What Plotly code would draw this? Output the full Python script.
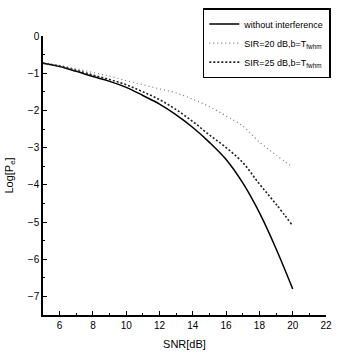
import plotly.graph_objects as go

snr = [5, 6, 7, 8, 9, 10, 11, 12, 13, 14, 15, 16, 17, 18, 19, 20]
no_interf = [-0.73, -0.82, -0.95, -1.09, -1.22, -1.38, -1.60, -1.83, -2.12, -2.46, -2.86, -3.32, -3.95, -4.75, -5.72, -6.80]
sir20 = [-0.73, -0.79, -0.88, -0.98, -1.08, -1.20, -1.31, -1.42, -1.53, -1.70, -1.90, -2.15, -2.42, -2.85, -3.20, -3.53]
sir25 = [-0.73, -0.81, -0.92, -1.05, -1.17, -1.31, -1.50, -1.71, -1.98, -2.30, -2.66, -3.00, -3.40, -3.98, -4.52, -5.10]

names = ["without interference",
         "SIR=20 dB,b=<span style='color:black'>T<sub>fwhm</sub></span>",
         "SIR=25 dB,b=<span style='color:black'>T<sub>fwhm</sub></span>"]

fig = go.Figure()
fig.add_trace(go.Scatter(x=snr, y=no_interf, mode="lines", name=names[0],
                         line=dict(color="black", width=1.5, shape="spline")))
fig.add_trace(go.Scatter(x=snr, y=sir20, mode="lines", name=names[1],
                         line=dict(color="#777777", width=1.2, dash="1px,3px", shape="spline")))
fig.add_trace(go.Scatter(x=snr, y=sir25, mode="lines", name=names[2],
                         line=dict(color="#222222", width=1.6, dash="2px,2px", shape="spline")))

axis_common = dict(showline=True, linecolor="black", linewidth=1.5, mirror=False,
                   ticks="inside", ticklen=4, tickwidth=1, tickcolor="black",
                   showgrid=False, zeroline=False,
                   tickfont=dict(family="Liberation Sans, Arial", size=10, color="black"))

fig.update_layout(
    width=340, height=359,
    margin=dict(l=42, r=8, t=29, b=44),
    paper_bgcolor="white", plot_bgcolor="white",
    font=dict(family="Liberation Sans, Arial", size=11, color="black"),
    xaxis=dict(range=[5, 22], dtick=2, tick0=6,
               minor=dict(ticks="inside", ticklen=2, dtick=1, tickcolor="black"),
               title=dict(text="SNR[dB]", font=dict(size=11), standoff=11),
               **axis_common),
    yaxis=dict(range=[-7.5, 0], dtick=1, tick0=0,
               minor=dict(ticks="inside", ticklen=2, dtick=0.5, tickcolor="black"),
               title=dict(text="Log[P<sub>e</sub>]", font=dict(size=11), standoff=12),
               **axis_common),
    legend=dict(x=1.017, y=1.1, xanchor="right", yanchor="top",
                bgcolor="white", bordercolor="black", borderwidth=1.5,
                font=dict(size=9, color="black"), tracegroupgap=0, itemwidth=30),
    showlegend=True,
)

fig.write_html("out.html", config={"displayModeBar": False},
               post_script="document.body.style.margin='0';document.body.style.overflow='hidden';")
